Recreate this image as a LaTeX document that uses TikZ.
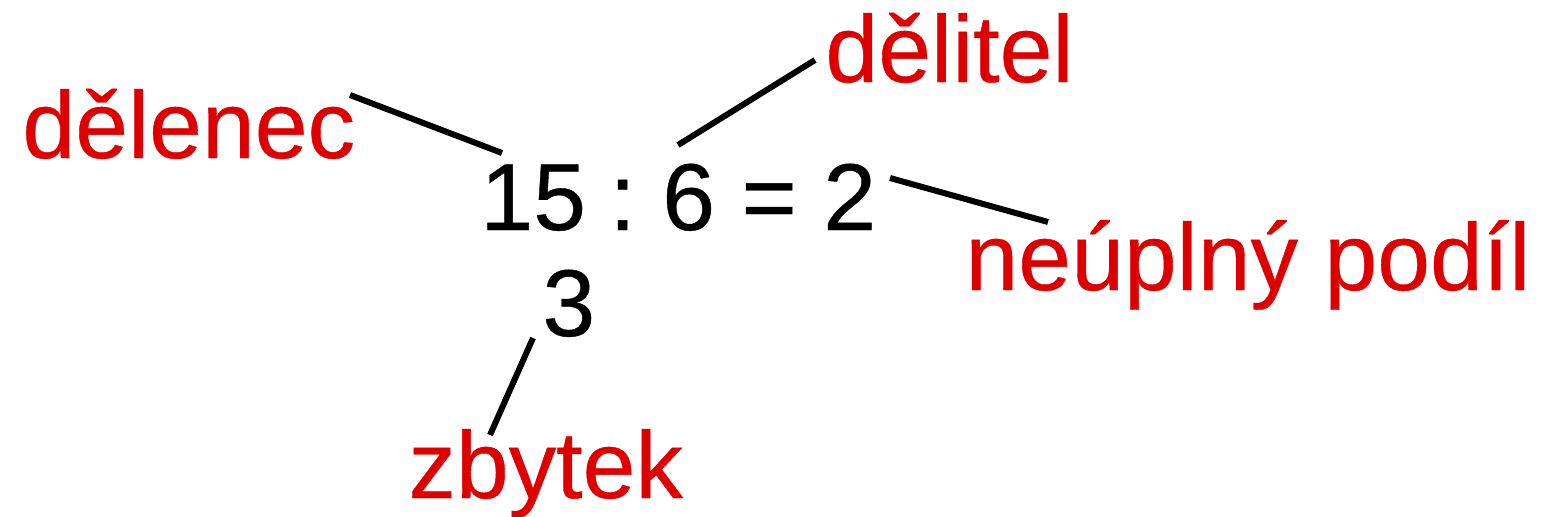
\documentclass[tikz,border=0pt]{standalone}
\usepackage{fontspec}
\setmainfont{Liberation Sans}
\newfontfamily\lblfont{Liberation Sans}[FakeBold=0.4]
\definecolor{lbl}{RGB}{222,0,0}
\begin{document}
\begin{tikzpicture}[x=0.5pt,y=-0.5pt,
  txt/.style={inner sep=0pt,anchor=base west,font=\lblfont\fontsize{47.5}{57}\selectfont},
  lab/.style={txt,text=lbl},
  conn/.style={line width=3pt,black}]
\useasboundingbox[fill=white] (0,0) rectangle (1541,516);
\node[lab] (dividend) at (22,158) {dělenec};
\node[lab] (divisor) at (825,82) {dělitel};
\node[txt] (eq) at (480,230) {15\kern-1.5pt\ :\ 6 = 2};
\node[lab] (quot) at (965,290) {neúplný podíl};
\node[txt] (rem) at (542,336) {3};
\node[lab] (remlab) at (408,498) {zbytek};
\coordinate (a1) at (350,95); \coordinate (a2) at (502,153);
\coordinate (b1) at (815,60); \coordinate (b2) at (678,145);
\coordinate (c1) at (890,178); \coordinate (c2) at (1048,222);
\coordinate (d1) at (533,338); \coordinate (d2) at (490,435);
\draw[conn] (a1) -- (a2);
\draw[conn] (b1) -- (b2);
\draw[conn] (c1) -- (c2);
\draw[conn] (d1) -- (d2);
\end{tikzpicture}
\end{document}
